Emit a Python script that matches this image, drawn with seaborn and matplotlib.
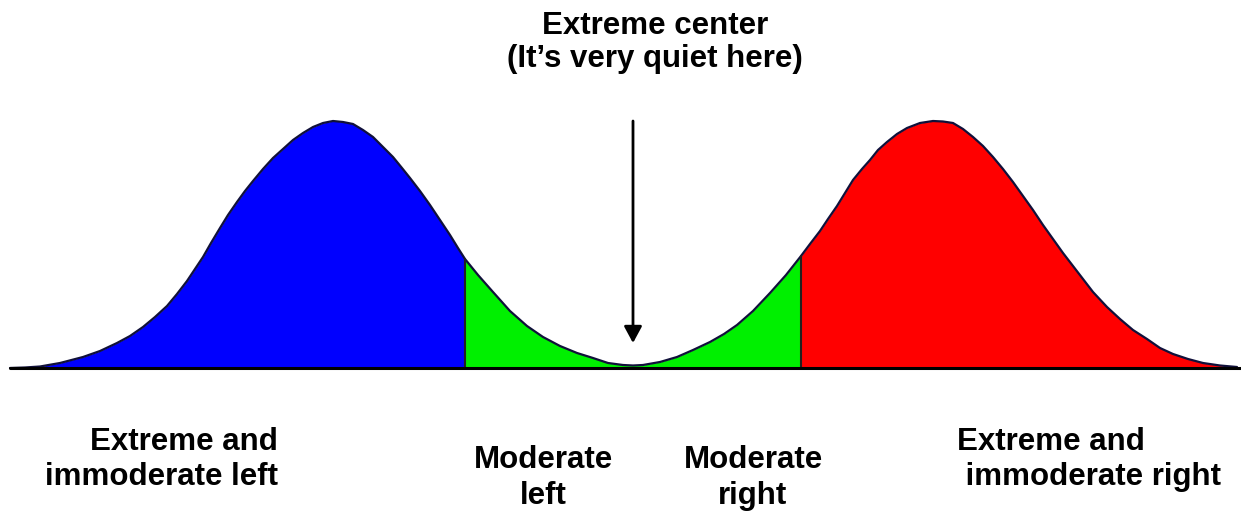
import matplotlib
matplotlib.use("Agg")
import matplotlib.pyplot as plt
import seaborn as sns
import pandas as pd

# political position (left -> right) and height of the distribution
position = [10, 25, 40, 60, 83, 100, 117, 130, 143, 155, 167, 177, 187, 195, 203, 211,
            220, 228, 237, 245, 253, 263, 273, 283, 293, 303, 313, 323, 333, 343, 353,
            363, 373, 383, 393, 402, 410, 420, 430, 440, 450, 458, 465,
            478, 493, 510, 527, 543, 560, 577, 593, 608, 623, 633, 643, 660, 677, 693,
            710, 724, 737, 753, 770, 786, 801,
            810, 820, 828, 837, 845, 853, 862, 870, 878, 887, 897, 907, 920, 933, 943,
            953, 963, 973, 983, 993, 1003, 1013, 1023, 1033, 1043, 1053, 1063, 1073,
            1083, 1093, 1107, 1120, 1133, 1147, 1160, 1173, 1188, 1203, 1220, 1237]
density = [0, 0.5, 1.5, 5, 11, 17, 25, 32, 41, 51, 62, 74, 87, 99, 111, 125,
           140, 153, 166, 177, 187, 199, 210, 219, 228, 235, 241, 245, 247, 246, 244,
           238, 231, 221, 211, 200, 190, 177, 163, 148, 133, 120, 109,
           93, 76, 57, 42, 31, 22, 15, 10, 5, 3, 2.5, 3, 6, 11, 18,
           26, 34, 43, 57, 75, 93, 112,
           124, 137, 149, 162, 175, 188, 199, 208, 218, 226, 234, 240, 245, 247, 246.5,
           245, 239, 231, 222, 211, 199, 186, 172, 158, 143, 129, 115, 102,
           89, 76, 61, 49, 38, 29, 20, 14, 9, 5, 2.5, 1]

left_cut = 465
right_cut = 801
center = 633

top_title = ["Extreme center", "(It\u2019s very quiet here)"]
left_label = ["Extreme and", "immoderate left"]
mod_left_label = ["Moderate", "left"]
mod_right_label = ["Moderate", "right"]
right_label = ["Extreme and", " immoderate right"]

df = pd.DataFrame({"position": position, "density": density})

sns.set_theme(style="white")
plt.rcParams["font.family"] = ["Liberation Sans", "DejaVu Sans"]

fig = plt.figure(figsize=(12.41, 5.13), dpi=100)
ax = fig.add_axes([0, 0, 1, 1])

blue = df[df.position <= left_cut]
green = df[(df.position >= left_cut) & (df.position <= right_cut)]
red = df[df.position >= right_cut]
ax.fill_between(blue.position, 0, blue.density, color="#0000ff", lw=0)
ax.fill_between(green.position, 0, green.density, color="#00f000", lw=0)
ax.fill_between(red.position, 0, red.density, color="#ff0000", lw=0)

sns.lineplot(data=df, x="position", y="density", color="#10103a", lw=1.6, ax=ax,
             sort=True, estimator=None)

# dark separators between the regions
for cut in [left_cut, right_cut]:
    h = df.loc[df.position == cut, "density"].iloc[0]
    ax.plot([cut, cut], [0, h], color="#202020", lw=1.5)

# baseline
ax.plot([df.position.min(), 1241], [0, 0], color="black", lw=2.2)

ax.annotate("", xy=(center, 25), xytext=(center, 247),
            arrowprops=dict(arrowstyle="-|>,head_length=0.5,head_width=0.27",
                            color="black", lw=2, mutation_scale=20,
                            shrinkA=0, shrinkB=0))

fs = 22.5
kw = dict(fontsize=fs, fontweight="bold", color="black", va="baseline")
ax.text(655, 334, top_title[0], ha="center", **kw)
ax.text(655, 301, top_title[1], ha="center", **kw)
ax.text(278, -82, left_label[0], ha="right", **kw)
ax.text(278, -117, left_label[1], ha="right", **kw)
ax.text(543, -100, mod_left_label[0], ha="center", **kw)
ax.text(543, -136, mod_left_label[1], ha="center", **kw)
ax.text(753, -100, mod_right_label[0], ha="center", **kw)
ax.text(753, -136, mod_right_label[1], ha="center", **kw)
ax.text(957, -82, right_label[0], ha="left", **kw)
ax.text(957, -117, right_label[1], ha="left", **kw)

ax.set_xlim(0, 1241)
ax.set_ylim(-145, 368)
ax.axis("off")

fig.savefig("out.png", dpi=100, facecolor="white")
